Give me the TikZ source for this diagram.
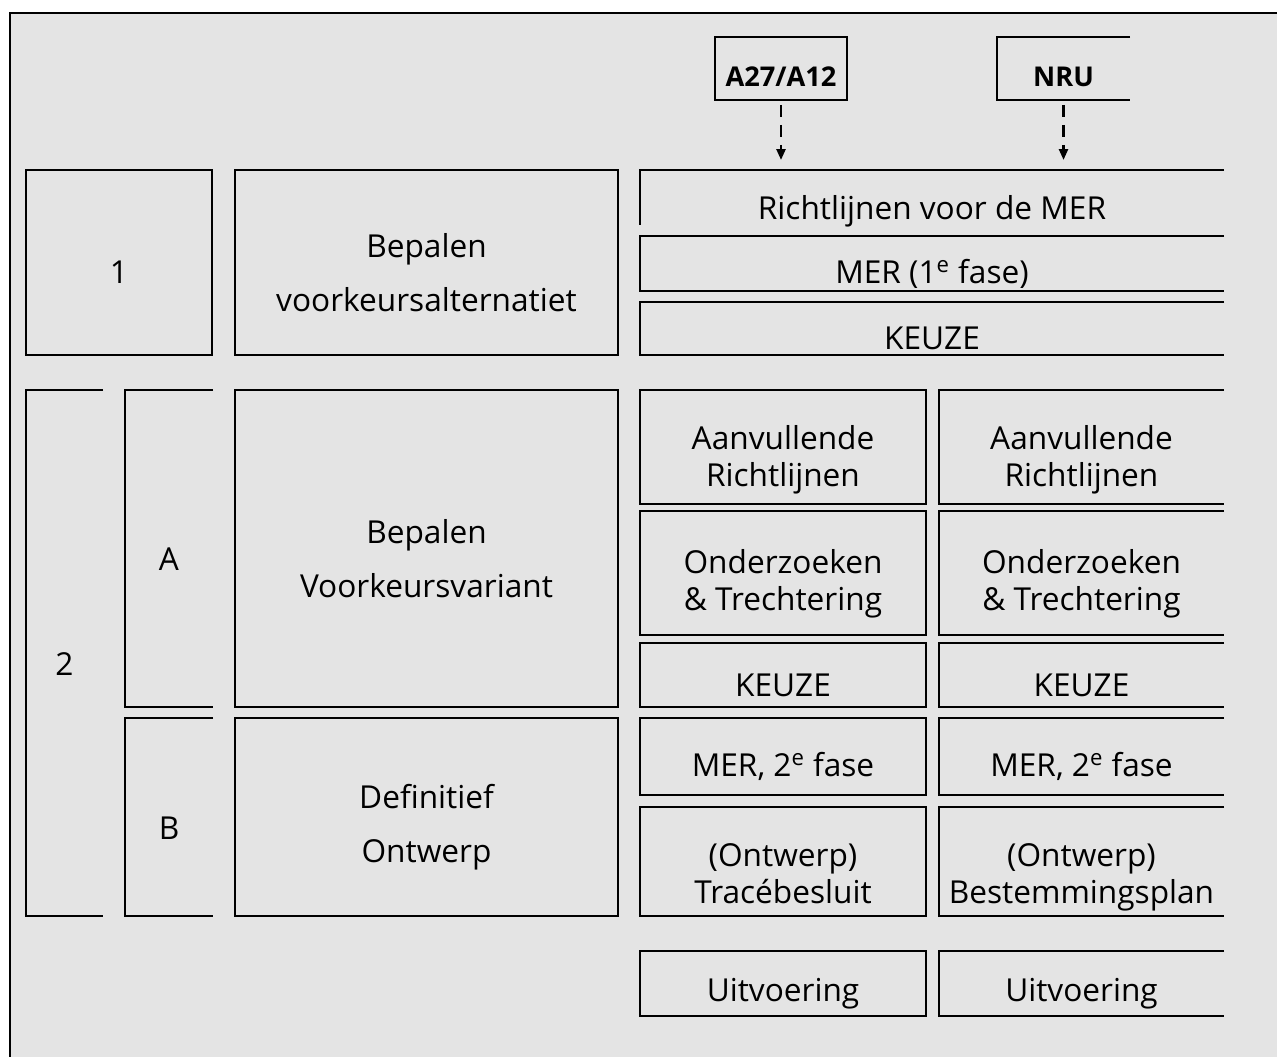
\documentclass[tikz,border=0pt]{standalone}
\usepackage{fontspec}
\setmainfont{Open Sans}
\usetikzlibrary{arrows.meta, positioning, fit}
\definecolor{bggray}{RGB}{228,228,228}

\begin{document}
\begin{tikzpicture}[x=0.02cm, y=-0.02cm,
  box/.style={draw, line width=1.4pt, inner sep=0pt, outer sep=0pt},
  openbox/.style={inner sep=0pt, outer sep=0pt},
  edge/.style={line width=1.4pt},
  lbl/.style={align=center, font=\fontsize{18}{21}\selectfont},
  biglbl/.style={align=center, font=\fontsize{18}{31}\selectfont},
  tag/.style={font=\fontsize{15.5}{17}\selectfont\bfseries},
  feed/.style={line width=1.4pt, dash pattern=on 0.24cm off 0.16cm,
    -{Triangle[length=0.22cm,width=0.18cm]}, shorten <=0.1cm, shorten >=0.2cm}]

  \useasboundingbox (0,0) rectangle (1277,1057);
  \fill[bggray] (10,13) rectangle (1277,1057);
  \draw[line width=1.2pt] (10,1057) -- (10,13) -- (1277,13);

  % Fase 1
  \node[box, fit={(26,170)(212,355)}] (p1) {};
  \node[lbl] (p1-t) at ([yshift=-0.2cm]p1.center) {1};
  \node[box, fit={(235,170)(618,355)}] (alt) {};
  \node[biglbl] (alt-t) at ([yshift=-0.2cm]alt.center) {Bepalen\\voorkeursalternatiet};

  \node[openbox, fit={(640,170)(1224,225)}] (rl) {};
  \node[lbl] (rl-t) at ([yshift=-0.28cm]rl.center) {Richtlijnen voor de MER};
  \node[openbox, fit={(640,236)(1224,291)}] (mer1) {};
  \node[lbl] (mer1-t) at ([yshift=-0.2cm]mer1.center) {MER (1\textsuperscript{e} fase)};
  \node[openbox, fit={(640,302)(1224,355)}] (keuze) {};
  \node[lbl] (keuze-t) at ([yshift=-0.2cm]keuze.center) {KEUZE};

  % Projecten
  \node[box, fit={(715,37)(847,100)}] (a27) {};
  \node[tag] (a27-t) at ([yshift=-0.16cm]a27.center) {A27/A12};
  \node[openbox, fit={(997,37)(1130,100)}] (nru) {};
  \node[tag] (nru-t) at ([yshift=-0.16cm]nru.center) {NRU};

  \draw[feed] (a27.south) -- (a27.south |- rl.north);
  \draw[feed] (nru.south) -- (nru.south |- rl.north);

  % Fase 2
  \node[openbox, fit={(26,390)(103,916)}] (p2) {};
  \node[lbl] (p2-t) at ([yshift=-0.22cm]p2.center) {2};
  \node[openbox, fit={(125,390)(213,707)}] (pa) {};
  \node[lbl] (pa-t) at ([yshift=-0.22cm]pa.center) {A};
  \node[openbox, fit={(125,718)(213,916)}] (pb) {};
  \node[lbl] (pb-t) at ([yshift=-0.22cm]pb.center) {B};

  \node[box, fit={(235,390)(618,707)}] (var) {};
  \node[biglbl] (var-t) at ([yshift=-0.2cm]var.center) {Bepalen\\Voorkeursvariant};
  \node[box, fit={(235,718)(618,916)}] (def) {};
  \node[biglbl] (def-t) at ([yshift=-0.2cm]def.center) {Definitief\\Ontwerp};

  % twee kolommen
  \foreach \c/\xa/\xb/\st/\plan in {a/640/926/box/Tracébesluit, b/939/1224/openbox/Bestemmingsplan} {
    \node[\st, fit={(\xa,390)(\xb,504)}] (ar-\c) {};
    \node[lbl] (ar-\c-t) at ([yshift=-0.26cm]ar-\c.center) {Aanvullende\\Richtlijnen};
    \node[\st, fit={(\xa,511)(\xb,635)}] (oz-\c) {};
    \node[lbl] (oz-\c-t) at ([yshift=-0.22cm]oz-\c.center) {Onderzoeken\\\& Trechtering};
    \node[\st, fit={(\xa,643)(\xb,707)}] (kz-\c) {};
    \node[lbl] (kz-\c-t) at ([yshift=-0.2cm]kz-\c.center) {KEUZE};
    \node[\st, fit={(\xa,718)(\xb,795)}] (m2-\c) {};
    \node[lbl] (m2-\c-t) at ([yshift=-0.2cm]m2-\c.center) {MER, 2\textsuperscript{e} fase};
    \node[\st, fit={(\xa,807)(\xb,916)}] (ob-\c) {};
    \node[lbl] (ob-\c-t) at ([yshift=-0.32cm]ob-\c.center) {(Ontwerp)\\\plan\vphantom{éBgp}};
    \node[\st, fit={(\xa,951)(\xb,1016)}] (ui-\c) {};
    \node[lbl] (ui-\c-t) at ([yshift=-0.2cm]ui-\c.center) {Uitvoering};
  }

  % open randen
  \foreach \n in {mer1, keuze, nru, p2, pa, pb, ar-b, oz-b, kz-b, m2-b, ob-b, ui-b}
    \draw[edge] (\n.north east) -| (\n.south west) -- (\n.south east);
  \draw[edge] (rl.north east) -| (rl.south west);
\end{tikzpicture}
\end{document}
